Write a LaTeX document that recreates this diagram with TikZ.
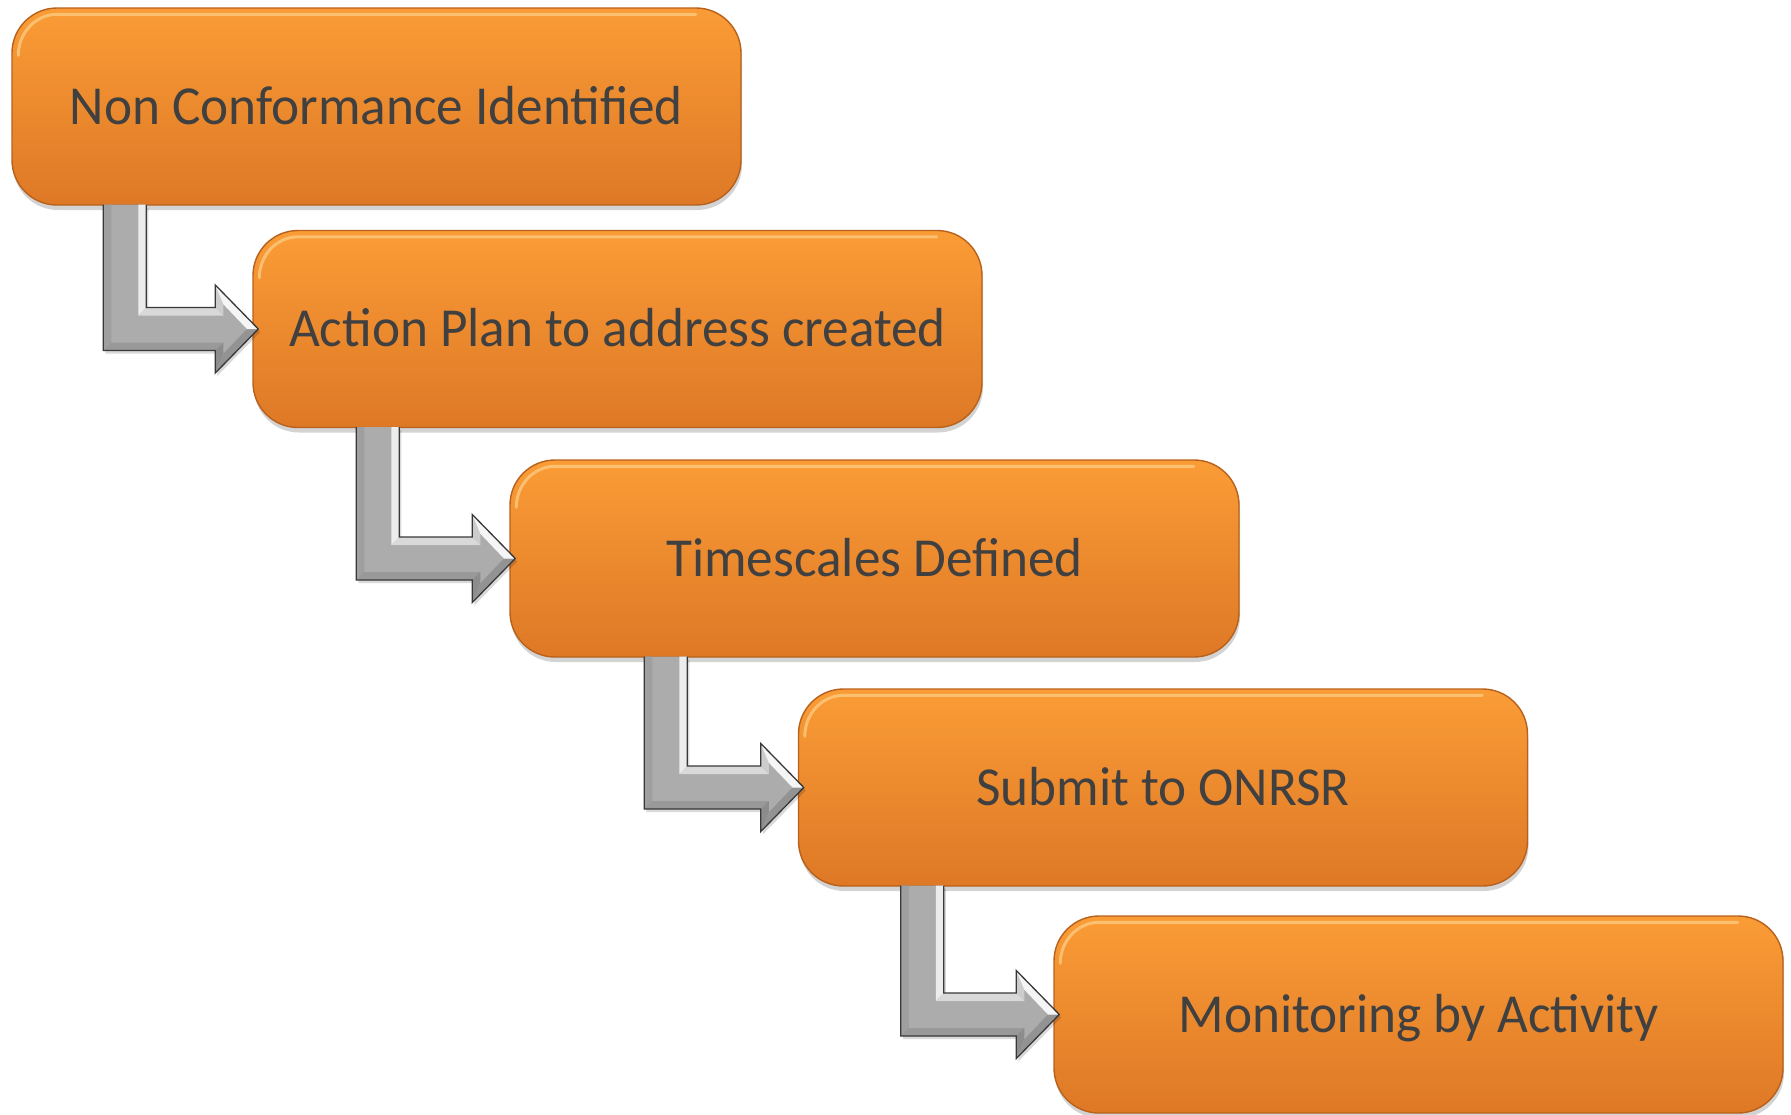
\documentclass[tikz,border=0pt]{standalone}
\usepackage{fontspec}
\setmainfont[FakeStretch=0.968]{Carlito}
\usetikzlibrary{shadows}
\definecolor{txtgray}{HTML}{404040}
\definecolor{boxtop}{HTML}{FA9C36}
\definecolor{boxbot}{HTML}{DE7826}
\definecolor{boxedge}{HTML}{B8611C}
\definecolor{boxhl}{HTML}{FDD08A}
\newcommand{\bentarrow}[3]{%
 \pgfpointanchor{#1}{south west}\pgfgetlastxy{\ArAx}{\ArAy}%
 \pgfpointanchor{#2}{west}\pgfgetlastxy{\ArBx}{\ArBy}%
 \pgfmathsetmacro{\ArL}{\ArAx+#3}%
 \pgfmathsetmacro{\ArR}{\ArL+43}%
 \pgfmathsetmacro{\ArT}{\ArAy+1}%
 \pgfmathsetmacro{\ArTip}{\ArBx+6}%
 \pgfmathsetmacro{\ArHb}{\ArTip-43}%
 \pgfmathsetmacro{\ArY}{\ArBy}%
 \pgfmathsetmacro{\ArYa}{\ArBy-21.5}%
 \pgfmathsetmacro{\ArYb}{\ArBy+21.5}%
 \pgfmathsetmacro{\ArYc}{\ArBy-44}%
 \pgfmathsetmacro{\ArYd}{\ArBy+44}%
 \pgfmathsetmacro{\ArLi}{\ArL+8}%
 \pgfmathsetmacro{\ArRi}{\ArR-8}%
 \pgfmathsetmacro{\ArHbi}{\ArHb+8}%
 \pgfmathsetmacro{\ArTipi}{\ArTip-11.3}%
 \pgfmathsetmacro{\ArYai}{\ArBy-13.5}%
 \pgfmathsetmacro{\ArYbi}{\ArBy+13.5}%
 \pgfmathsetmacro{\ArYci}{\ArBy-24.8}%
 \pgfmathsetmacro{\ArYdi}{\ArBy+24.8}%
 % soft shadow
 \begin{scope}[xshift=2pt,yshift=-3pt]
 \fill[black,opacity=0.15] (\ArL pt,\ArT pt) -- (\ArL pt,\ArYa pt) -- (\ArHb pt,\ArYa pt) -- (\ArHb pt,\ArYc pt) -- (\ArTip pt,\ArY pt) -- (\ArHb pt,\ArYd pt) -- (\ArHb pt,\ArYb pt) -- (\ArR pt,\ArYb pt) -- (\ArR pt,\ArT pt) -- cycle;
 \end{scope}
 % base shape
 \fill[arrface] (\ArL pt,\ArT pt) -- (\ArL pt,\ArYa pt) -- (\ArHb pt,\ArYa pt) -- (\ArHb pt,\ArYc pt) -- (\ArTip pt,\ArY pt) -- (\ArHb pt,\ArYd pt) -- (\ArHb pt,\ArYb pt) -- (\ArR pt,\ArYb pt) -- (\ArR pt,\ArT pt) -- cycle;
 % facets
 \fill[fill=gray!75] (\ArL pt,\ArT pt) -- (\ArLi pt,\ArT pt) -- (\ArLi pt,\ArYai pt) -- (\ArL pt,\ArYa pt) -- cycle;
 \fill[fill=gray!15] (\ArRi pt,\ArT pt) -- (\ArR pt,\ArT pt) -- (\ArR pt,\ArYb pt) -- (\ArRi pt,\ArYbi pt) -- cycle;
 \fill[fill=gray!120!black] (\ArL pt,\ArYa pt) -- (\ArLi pt,\ArYai pt) -- (\ArHbi pt,\ArYai pt) -- (\ArHb pt,\ArYa pt) -- cycle;
 \fill[fill=gray!30] (\ArRi pt,\ArYbi pt) -- (\ArR pt,\ArYb pt) -- (\ArHb pt,\ArYb pt) -- (\ArHbi pt,\ArYbi pt) -- cycle;
 \fill[fill=gray!90] (\ArHb pt,\ArYa pt) -- (\ArHbi pt,\ArYai pt) -- (\ArHbi pt,\ArYci pt) -- (\ArHb pt,\ArYc pt) -- cycle;
 \fill[fill=gray!40] (\ArHb pt,\ArYb pt) -- (\ArHbi pt,\ArYbi pt) -- (\ArHbi pt,\ArYdi pt) -- (\ArHb pt,\ArYd pt) -- cycle;
 \fill[fill=gray!85] (\ArHb pt,\ArYc pt) -- (\ArHbi pt,\ArYci pt) -- (\ArTipi pt,\ArY pt) -- (\ArTip pt,\ArY pt) -- cycle;
 \fill[fill=gray!8] (\ArHb pt,\ArYd pt) -- (\ArHbi pt,\ArYdi pt) -- (\ArTipi pt,\ArY pt) -- (\ArTip pt,\ArY pt) -- cycle;
 % outline
 \draw[arredge] (\ArL pt,\ArT pt) -- (\ArL pt,\ArYa pt) -- (\ArHb pt,\ArYa pt) -- (\ArHb pt,\ArYc pt) -- (\ArTip pt,\ArY pt) -- (\ArHb pt,\ArYd pt) -- (\ArHb pt,\ArYb pt) -- (\ArR pt,\ArYb pt) -- (\ArR pt,\ArT pt);
}
\newcommand{\boxhighlight}[1]{%
 \draw[boxglow] ([xshift=7pt,yshift=-48pt]#1.north west) to[out=90,in=180] ([xshift=46pt,yshift=-7pt]#1.north west) -- ([xshift=-46pt,yshift=-7pt]#1.north east);
}
\begin{document}
\begin{tikzpicture}[x=1pt,y=-1pt,
  stepbox/.style={rectangle, rounded corners=45pt, minimum width=729pt,
    minimum height=197pt, top color=boxtop, bottom color=boxbot,
    draw=boxedge, line width=1.4pt,
    drop shadow={opacity=0.35, shadow xshift=1pt, shadow yshift=-5pt},
    font=\fontsize{55}{60}\selectfont, text=txtgray,
    text height=35pt, text depth=0pt, inner sep=0pt},
  boxglow/.style={boxhl, line width=3pt, opacity=0.7, line cap=round},
  arrface/.style={fill=gray!65},
  arredge/.style={draw=black!78, line width=1.3pt, line join=miter}]
\useasboundingbox (0,0) rectangle (1791,1114);
\node[stepbox] (b1) at (376.5,106.5) {Non Conformance Identified};
\node[stepbox] (b2) at (617.5,329) {Action Plan to address created};
\node[stepbox] (b3) at (874.5,558.5) {Timescales Defined};
\node[stepbox] (b4) at (1163,787.5) {Submit to ONRSR};
\node[stepbox] (b5) at (1418.5,1014.5) {Monitoring by Activity};
\boxhighlight{b1}
\boxhighlight{b2}
\boxhighlight{b3}
\boxhighlight{b4}
\boxhighlight{b5}
\bentarrow{b1}{b2}{92}
\bentarrow{b2}{b3}{104}
\bentarrow{b3}{b4}{135}
\bentarrow{b4}{b5}{103}
\end{tikzpicture}
\end{document}
